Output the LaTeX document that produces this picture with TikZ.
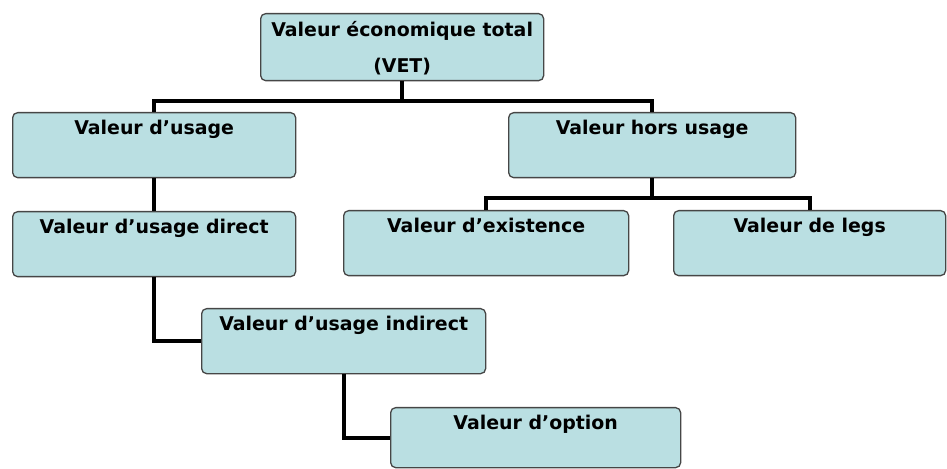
\documentclass[tikz,border=0pt]{standalone}
\usepackage{fontspec}
\setmainfont{DejaVu Sans}
\usepackage{tikz}
\definecolor{vetfill}{RGB}{186, 223, 226}
\definecolor{vetborder}{RGB}{70, 70, 70}

\tikzset{
    valbox/.style={draw=vetborder, line width=1.3bp, fill=vetfill, rounded corners=5bp,
        anchor=north west, inner sep=0pt, minimum height=65bp,
        text height=22bp, text depth=43bp, font=\bfseries\fontsize{19}{22}\selectfont},
    link/.style={line width=4bp, black}
}

\begin{document}
\begin{tikzpicture}[x=1bp, y=-1bp]
    \useasboundingbox (0,0) rectangle (947,469);

    % Total value
    \node[valbox, minimum width=283bp, minimum height=67bp, align=center,
        text height=59bp, text depth=8bp] (vet) at (260,13)
        {Valeur économique total\\[14bp](VET)};

    % Use values
    \node[valbox, minimum width=283bp] (usage) at (12,112) {Valeur d’usage};
    \node[valbox, minimum width=283bp] (direct) at (12,211) {Valeur d’usage direct};
    \node[valbox, minimum width=284bp] (indirect) at (201,308) {Valeur d’usage indirect};
    \node[valbox, minimum width=290bp, minimum height=60bp, text depth=38bp] (option) at (390,407) {Valeur d’option};

    % Non-use values
    \node[valbox, minimum width=287bp] (hors) at (508,112) {Valeur hors usage};
    \node[valbox, minimum width=285bp] (exist) at (343,210) {Valeur d’existence};
    \node[valbox, minimum width=272bp] (legs) at (673,210) {Valeur de legs};

    % Connectors
    \draw[link] (vet.south) -- ++(0,20) -| (usage.north);
    \draw[link] (vet.south) -- ++(0,20) -| (hors.north);
    \draw[link] (usage.south) -- (direct.north);
    \draw[link] (direct.south) |- (indirect.west);
    \draw[link] (indirect.south) |- (option.west);
    \draw[link] (hors.south) -- ++(0,20) -| (exist.north);
    \draw[link] (hors.south) -- ++(0,20) -| (legs.north);
\end{tikzpicture}
\end{document}
